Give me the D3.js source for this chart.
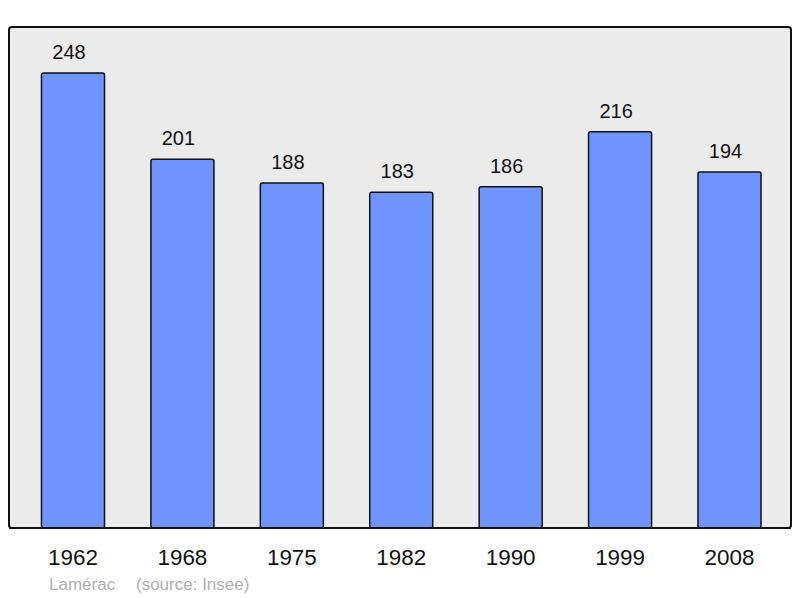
<!DOCTYPE html>
<html>
<head>
<meta charset="utf-8">
<script src="https://cdn.jsdelivr.net/npm/d3@7"></script>
<style>
  body { margin: 0; background: #fff; }
  text { font-family: "Liberation Sans", Arial, sans-serif; }
</style>
</head>
<body>
<div id="chart"></div>
<script>
    const years = ["1962", "1968", "1975", "1982", "1990", "1999", "2008"];
    const population = [248, 201, 188, 183, 186, 216, 194];
    const commune = "Lamérac";
    const source = "(source: Insee)";

    const width = 800, height = 598;
    const panel = { left: 9, top: 27, right: 791, bottom: 528 };

    const svg = d3.select("#chart")
        .append("svg")
        .attr("width", width)
        .attr("height", height);

    // Background panel
    svg.append("rect")
        .attr("x", panel.left)
        .attr("y", panel.top)
        .attr("width", panel.right - panel.left)
        .attr("height", panel.bottom - panel.top)
        .attr("rx", 3)
        .style("fill", "#ebebeb")
        .style("stroke", "#111")
        .style("stroke-width", 2);

    const x = d3.scaleBand()
        .domain(years)
        .range([18.3, 784.2])
        .paddingInner(0.424)
        .paddingOuter(0.212);

    const y = d3.scaleLinear()
        .domain([0, 248])
        .range([panel.bottom, 73]);

    const data = years.map((yr, i) => ({ year: yr, value: population[i] }));

    svg.selectAll("rect.bar")
        .data(data)
        .enter()
        .append("rect")
        .attr("class", "bar")
        .attr("x", d => x(d.year))
        .attr("y", d => y(d.value))
        .attr("width", x.bandwidth())
        .attr("height", d => y(0) - y(d.value))
        .attr("rx", 2)
        .style("fill", "#7094ff")
        .style("stroke", "#111")
        .style("stroke-width", 1.5);

    // Value labels
    svg.selectAll("text.val")
        .data(data)
        .enter()
        .append("text")
        .attr("class", "val")
        .attr("x", d => x(d.year) + x.bandwidth() / 2 - 4)
        .attr("y", d => y(d.value) - 14)
        .attr("text-anchor", "middle")
        .style("font-size", "20px")
        .style("fill", "#111")
        .text(d => d.value);

    // Bottom line of panel redrawn over bars
    svg.append("line")
        .attr("x1", panel.left)
        .attr("x2", panel.right)
        .attr("y1", panel.bottom)
        .attr("y2", panel.bottom)
        .style("stroke", "#111")
        .style("stroke-width", 2);

    // Year axis
    const axis = svg.append("g")
        .attr("transform", `translate(0, ${panel.bottom})`)
        .call(d3.axisBottom(x).tickSize(0).tickPadding(0));
    axis.select(".domain").remove();
    axis.selectAll("text")
        .attr("y", 37)
        .attr("dy", null)
        .style("font-family", "'Liberation Sans', Arial, sans-serif")
        .style("font-size", "22.4px")
        .style("fill", "#111");

    // Footer
    svg.append("text")
        .attr("x", 49)
        .attr("y", 590)
        .style("font-size", "17px")
        .style("fill", "#b0b0b0")
        .text(commune);

    svg.append("text")
        .attr("x", 136)
        .attr("y", 590)
        .style("font-size", "17px")
        .style("fill", "#b0b0b0")
        .text(source);
</script>
</body>
</html>
